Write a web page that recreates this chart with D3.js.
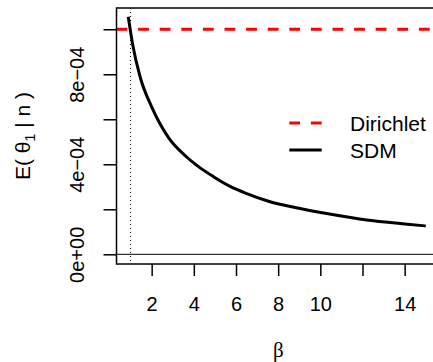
<!DOCTYPE html>
<html>
<head>
<meta charset="utf-8">
<script src="https://cdn.jsdelivr.net/npm/d3@7"></script>
<style>
	body { margin: 0; background: #fff; }
	text { font-family: "Liberation Sans", Arial, Helvetica, sans-serif; fill: #000; }
	.axis-title-x { font-family: "Liberation Serif", "DejaVu Serif", serif; }
</style>
</head>
<body>
<div id="chart"></div>
<script>

// beta values along the curve and the SDM posterior mean
let betaVals = [0.89, 1.09, 1.45, 2.0, 2.79, 3.58, 4.14, 4.93, 5.72, 6.51, 7.54, 8.8, 10.23, 11.65, 12.31, 13.88, 15];
let sdmVals = [1.056e-3, 9.37e-4, 7.89e-4, 6.55e-4, 5.2e-4, 4.39e-4, 3.95e-4, 3.45e-4, 3.02e-4, 2.70e-4, 2.36e-4, 2.08e-4, 1.82e-4, 1.60e-4, 1.51e-4, 1.36e-4, 1.26e-4];

// Dirichlet mean is a constant
let dirichletVal = 1e-3;

// reference line at beta = 1
let betaRef = 1;

let xTicks = [2, 4, 6, 8, 10, 12, 14];
let xTickLabels = ["2", "4", "6", "8", "10", "", "14"];
let yTicks = [0, 2e-4, 4e-4, 6e-4, 8e-4, 1e-3];
let yTickLabels = ["0e+00", "", "4e\u221204", "", "8e\u221204", ""];

let legendLabels = ["Dirichlet", "SDM"];

class LineChart {

	constructor(parentElement) {
		this.parentElement = parentElement;
		this.initVis();
	}

	initVis() {
		let vis = this;

		vis.width = 433;
		vis.height = 362;

		// plot box (right side runs past the window edge, as in the original)
		vis.box = {left: 116.5, top: 8, right: 438.4, bottom: 264};

		vis.svg = d3.select("#" + vis.parentElement).append("svg")
			.attr("width", vis.width)
			.attr("height", vis.height);

		vis.x = d3.scaleLinear()
			.domain([0.332, 15.6])
			.range([vis.box.left, vis.box.right]);

		vis.y = d3.scaleLinear()
			.domain([-4.31e-5, 1.0945e-3])
			.range([vis.box.bottom, vis.box.top]);

		vis.svg.append("defs").append("clipPath")
			.attr("id", "plot-clip")
			.append("rect")
			.attr("x", vis.box.left)
			.attr("y", vis.box.top)
			.attr("width", vis.box.right - vis.box.left)
			.attr("height", vis.box.bottom - vis.box.top);

		// axes
		vis.xAxis = d3.axisBottom(vis.x)
			.tickValues(xTicks)
			.tickSize(12)
			.tickPadding(21)
			.tickFormat((d, i) => xTickLabels[i]);

		vis.yAxis = d3.axisLeft(vis.y)
			.tickValues(yTicks)
			.tickSize(13)
			.tickFormat((d, i) => yTickLabels[i]);

		let gx = vis.svg.append("g")
			.attr("class", "x-axis axis")
			.attr("transform", "translate(0," + vis.box.bottom + ")")
			.call(vis.xAxis);

		gx.select(".domain").remove();
		gx.selectAll("line").attr("stroke", "#000").attr("stroke-width", 1.5);
		gx.selectAll("text").style("font-size", "20px");

		let gy = vis.svg.append("g")
			.attr("class", "y-axis axis")
			.attr("transform", "translate(" + vis.box.left + ",0)")
			.call(vis.yAxis);

		gy.select(".domain").remove();
		gy.selectAll("line").attr("stroke", "#000").attr("stroke-width", 1.5);
		gy.selectAll("text")
			.style("font-size", "20px")
			.attr("text-anchor", "middle")
			.attr("x", null)
			.attr("transform", "translate(-39.5,0) rotate(-90)")
			.attr("dy", "0.36em");

		let plot = vis.svg.append("g").attr("clip-path", "url(#plot-clip)");

		// h = 0 reference
		plot.append("line")
			.attr("x1", vis.box.left)
			.attr("x2", vis.box.right)
			.attr("y1", vis.y(0))
			.attr("y2", vis.y(0))
			.attr("stroke", "#000")
			.attr("stroke-width", 1);

		// dotted line at beta = 1
		plot.append("line")
			.attr("x1", vis.x(betaRef))
			.attr("x2", vis.x(betaRef))
			.attr("y1", vis.box.top)
			.attr("y2", vis.box.bottom)
			.attr("stroke", "#000")
			.attr("stroke-width", 1)
			.attr("stroke-dasharray", "1,3");

		// Dirichlet line
		plot.append("line")
			.attr("class", "dirichlet")
			.attr("x1", vis.box.left)
			.attr("x2", vis.box.right)
			.attr("y1", vis.y(dirichletVal))
			.attr("y2", vis.y(dirichletVal))
			.attr("stroke", "#ff0000")
			.attr("stroke-width", 3)
			.attr("stroke-dasharray", "10.8,10.8");

		// SDM curve
		let line = d3.line()
			.x((d, i) => vis.x(betaVals[i]))
			.y(d => vis.y(d))
			.curve(d3.curveMonotoneX);

		plot.append("path")
			.datum(sdmVals)
			.attr("class", "sdm")
			.attr("d", line)
			.attr("fill", "none")
			.attr("stroke", "#000")
			.attr("stroke-width", 3);

		// box
		vis.svg.append("rect")
			.attr("x", vis.box.left)
			.attr("y", vis.box.top)
			.attr("width", vis.box.right - vis.box.left)
			.attr("height", vis.box.bottom - vis.box.top)
			.attr("fill", "none")
			.attr("stroke", "#000")
			.attr("stroke-width", 1.5);

		// axis titles
		vis.svg.append("text")
			.attr("class", "axis-title-x")
			.attr("x", 278.3)
			.attr("y", 357)
			.attr("text-anchor", "middle")
			.style("font-size", "21px")
			.text("\u03B2");

		let yt = vis.svg.append("text")
			.attr("transform", "translate(29.5,136) rotate(-90)")
			.attr("text-anchor", "middle")
			.style("font-size", "21px");
		yt.append("tspan").text("E( \u03B8");
		yt.append("tspan").attr("dy", 5).style("font-size", "14px").text("1");
		yt.append("tspan").attr("dy", -5).text(" | n )");

		// legend
		let leg = vis.svg.append("g").attr("class", "legend");
		let legY = [123, 150];
		leg.append("line")
			.attr("x1", 289.3).attr("x2", 321.7)
			.attr("y1", legY[0]).attr("y2", legY[0])
			.attr("stroke", "#ff0000")
			.attr("stroke-width", 3)
			.attr("stroke-dasharray", "10.8,10.8");
		leg.append("line")
			.attr("x1", 289.3).attr("x2", 321.7)
			.attr("y1", legY[1]).attr("y2", legY[1])
			.attr("stroke", "#000")
			.attr("stroke-width", 3);
		leg.selectAll("text.leglab")
			.data(legendLabels)
			.enter()
			.append("text")
			.attr("class", "leglab")
			.attr("x", 350)
			.attr("y", (d, i) => legY[i])
			.attr("dy", "0.36em")
			.style("font-size", "21px")
			.text(d => d);
	}
}

let chart = new LineChart("chart");

</script>
</body>
</html>
